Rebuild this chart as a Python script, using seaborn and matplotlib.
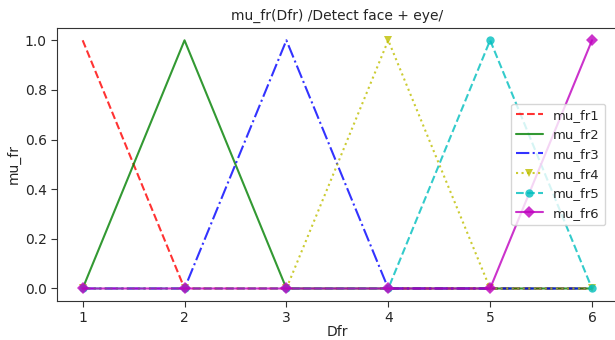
import matplotlib
matplotlib.use("Agg")
import matplotlib.pyplot as plt
import seaborn as sns
import pandas as pd

# membership values for each fuzzy set
dfr = [1, 2, 3, 4, 5, 6]
mu_fr1 = [1, 0, 0, 0, 0, 0]
mu_fr2 = [0, 1, 0, 0, 0, 0]
mu_fr3 = [0, 0, 1, 0, 0, 0]
mu_fr4 = [0, 0, 0, 1, 0, 0]
mu_fr5 = [0, 0, 0, 0, 1, 0]
mu_fr6 = [0, 0, 0, 0, 0, 1]

series = [
    ("mu_fr1", mu_fr1, "r", "--", None),
    ("mu_fr2", mu_fr2, "g", "-", None),
    ("mu_fr3", mu_fr3, "b", "-.", None),
    ("mu_fr4", mu_fr4, "y", ":", "v"),
    ("mu_fr5", mu_fr5, "c", "--", "o"),
    ("mu_fr6", mu_fr6, "m", "-", "D"),
]

sns.set_style("ticks")
plt.rcParams['font.family'] = ['DejaVu Sans']

fig = plt.figure(figsize=(6.15, 3.4), dpi=100)
ax = fig.add_axes([0.093, 0.115, 0.911, 0.803])

for name, vals, col, ls, mk in series:
    d = pd.DataFrame({"Dfr": dfr, "mu_fr": vals})
    sns.lineplot(data=d, x="Dfr", y="mu_fr", ax=ax, color=col, linestyle=ls,
                 marker=mk, markersize=6, markeredgewidth=0, alpha=0.8,
                 linewidth=1.5, label=name)

ax.set_xticks(dfr)
ax.set_yticks([0, 0.2, 0.4, 0.6, 0.8, 1.0])
ax.set_xlabel("Dfr", fontsize=10, labelpad=0)
ax.set_ylabel("mu_fr", fontsize=10, labelpad=3)
ax.set_title("mu_fr(Dfr) /Detect face + eye/", fontsize=10)
ax.tick_params(labelsize=10, length=4, color="#333333")
for s in ax.spines.values():
    s.set_color("#333333")
ax.legend(loc="center right", fontsize=9.5, framealpha=0.8,
          bbox_to_anchor=(0.99, 0.5))

fig.savefig("out.png", dpi=100)
